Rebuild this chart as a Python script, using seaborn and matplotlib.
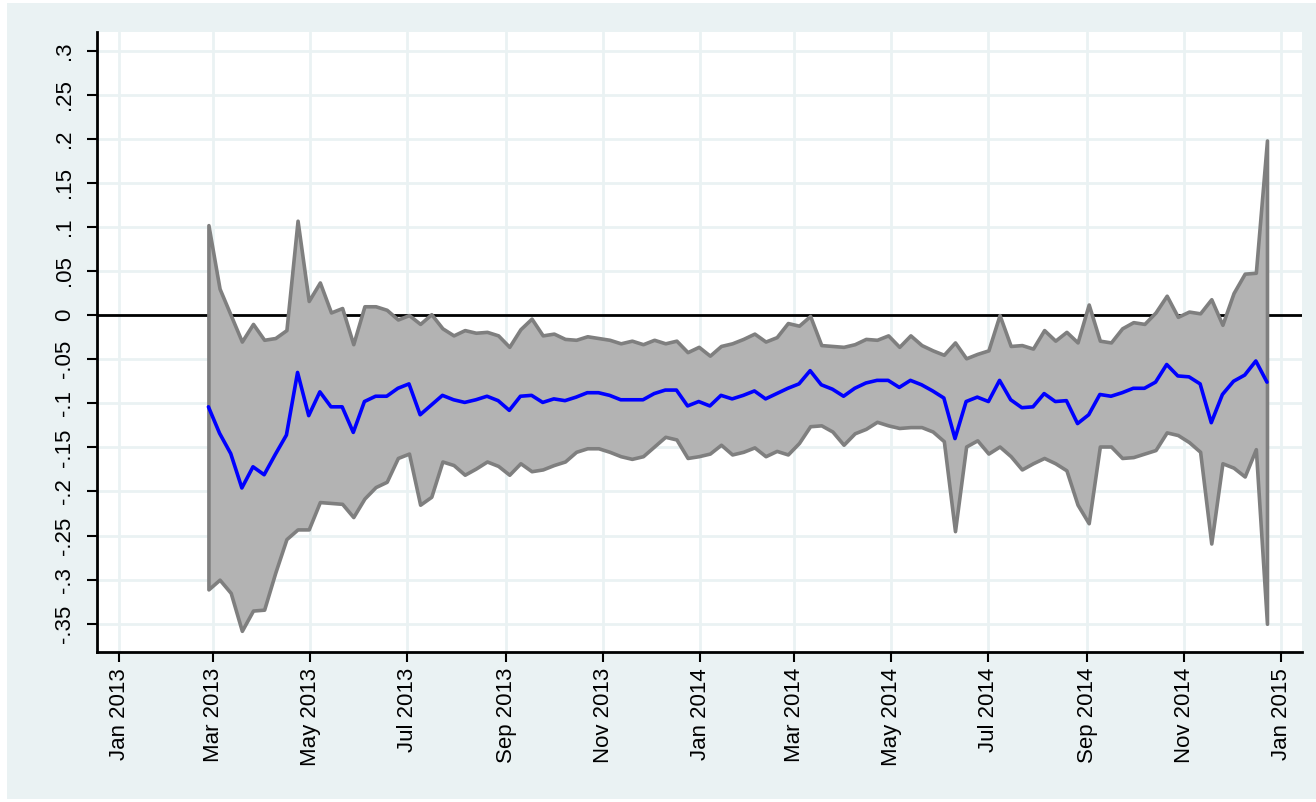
import matplotlib
matplotlib.use("Agg")
import matplotlib.pyplot as plt
from matplotlib import font_manager
from matplotlib.patches import Rectangle
import numpy as np
import pandas as pd
import seaborn as sns

# weekly estimates with confidence band
upper = [0.102, 0.030, 0.000, -0.030, -0.010, -0.028, -0.026, -0.017, 0.107, 0.016, 0.037, 0.003, 0.008, -0.033, 0.010, 0.010,
         0.006, -0.005, 0.000, -0.010, 0.001, -0.015, -0.023, -0.017, -0.020, -0.019, -0.023, -0.036, -0.016, -0.004, -0.023, -0.021,
         -0.027, -0.028, -0.024, -0.026, -0.028, -0.032, -0.029, -0.033, -0.028, -0.032, -0.029, -0.042, -0.036, -0.046, -0.035, -0.032,
         -0.027, -0.021, -0.030, -0.025, -0.009, -0.012, -0.001, -0.034, -0.035, -0.036, -0.033, -0.027, -0.028, -0.023, -0.036, -0.023,
         -0.034, -0.040, -0.045, -0.031, -0.049, -0.044, -0.040, 0.000, -0.035, -0.034, -0.038, -0.017, -0.029, -0.019, -0.031, 0.012,
         -0.029, -0.031, -0.015, -0.008, -0.010, 0.003, 0.022, -0.002, 0.004, 0.002, 0.018, -0.011, 0.025, 0.047, 0.048, 0.198]

mean = [-0.104, -0.134, -0.157, -0.196, -0.172, -0.181, -0.158, -0.136, -0.065, -0.114, -0.087, -0.104, -0.104, -0.133, -0.098, -0.092,
        -0.092, -0.083, -0.078, -0.113, -0.102, -0.091, -0.096, -0.099, -0.096, -0.092, -0.097, -0.108, -0.092, -0.091, -0.099, -0.095,
        -0.097, -0.093, -0.088, -0.088, -0.091, -0.096, -0.096, -0.096, -0.089, -0.085, -0.085, -0.103, -0.098, -0.103, -0.091, -0.095,
        -0.091, -0.086, -0.095, -0.089, -0.083, -0.078, -0.063, -0.079, -0.084, -0.092, -0.083, -0.077, -0.074, -0.074, -0.082, -0.074,
        -0.079, -0.086, -0.094, -0.140, -0.098, -0.093, -0.098, -0.074, -0.096, -0.105, -0.104, -0.089, -0.098, -0.097, -0.123, -0.113,
        -0.090, -0.092, -0.088, -0.083, -0.083, -0.076, -0.056, -0.069, -0.070, -0.078, -0.122, -0.090, -0.075, -0.068, -0.052, -0.076]

lower = [-0.311, -0.300, -0.315, -0.358, -0.335, -0.334, -0.292, -0.254, -0.243, -0.243, -0.212, -0.213, -0.214, -0.229, -0.208, -0.195,
         -0.189, -0.162, -0.157, -0.215, -0.206, -0.166, -0.170, -0.181, -0.174, -0.166, -0.171, -0.181, -0.168, -0.177, -0.175, -0.170,
         -0.166, -0.155, -0.151, -0.151, -0.155, -0.160, -0.163, -0.160, -0.149, -0.138, -0.141, -0.162, -0.160, -0.157, -0.147, -0.158,
         -0.155, -0.150, -0.160, -0.154, -0.158, -0.145, -0.126, -0.125, -0.132, -0.147, -0.134, -0.129, -0.121, -0.125, -0.128, -0.127,
         -0.127, -0.132, -0.143, -0.245, -0.149, -0.142, -0.157, -0.149, -0.160, -0.175, -0.168, -0.162, -0.168, -0.176, -0.215, -0.236,
         -0.149, -0.149, -0.162, -0.161, -0.157, -0.153, -0.133, -0.136, -0.144, -0.155, -0.259, -0.168, -0.173, -0.183, -0.152, -0.350]

weeks = pd.date_range("2013-02-26", periods=len(mean), freq="7D")
x_ticks = pd.date_range("2013-01-01", "2015-01-01", freq="2MS")
y_ticks = [0.3, 0.25, 0.2, 0.15, 0.1, 0.05, 0.0, -0.05, -0.1, -0.15, -0.2, -0.25, -0.3, -0.35]


def stata_label(v):
    # Stata drops the leading zero: .25, -.05, 0
    if abs(v) < 1e-9:
        return "0"
    s = f"{v:g}"
    return s.replace("0.", ".")


df = pd.DataFrame({"week": weeks, "mean": mean, "lower": lower, "upper": upper})

sns.set_style("white")

# the reference text is tall and narrow; use a narrow face when one is installed
try:
    font_manager.findfont("Liberation Sans Narrow", fallback_to_default=False)
    plt.rcParams['font.family'] = ['Liberation Sans Narrow', 'Liberation Sans', 'DejaVu Sans']
    label_size = 19
except ValueError:
    plt.rcParams['font.family'] = ['Liberation Sans', 'DejaVu Sans']
    label_size = 16

W, H = 1316, 802
fig = plt.figure(figsize=(W / 100, H / 100), dpi=100, facecolor="white")
# light graph region behind the white plot region
fig.patches.append(Rectangle((7 / W, 3 / H), (W - 7) / W, 796 / H, transform=fig.transFigure,
                             facecolor="#eaf2f3", edgecolor="none", zorder=-10))
ax = fig.add_axes([97 / W, 1 - 652 / H, (1302 - 97) / W, (652 - 32) / H])
ax.set_facecolor("white")

ax.axhline(0, color="black", lw=2, zorder=1.5)
ax.fill_between(df["week"], df["lower"], df["upper"], facecolor="#b3b3b3",
                edgecolor="#7f7f7f", linewidth=2.6, zorder=2)
sns.lineplot(data=df, x="week", y="mean", color="#0000ff", lw=2.6, ax=ax, zorder=4)

ax.set_xlim(pd.Timestamp("2012-12-18"), pd.Timestamp("2015-01-14"))
ax.set_ylim(-0.382, 0.321)

ax.set_xticks(x_ticks)
ax.set_xticklabels([d.strftime("%b %Y") for d in x_ticks], rotation=90, ha="center", va="top")
ax.set_yticks(y_ticks)
ax.set_yticklabels([stata_label(v) for v in y_ticks], rotation=90, va="center")

ax.grid(True, color="#eaf2f3", lw=2)
ax.set_axisbelow(True)
ax.set_xlabel("")
ax.set_ylabel("")

for side in ["top", "right"]:
    ax.spines[side].set_visible(False)
for side in ["left", "bottom"]:
    ax.spines[side].set_color("black")
    ax.spines[side].set_linewidth(2)

ax.tick_params(axis="both", direction="out", length=7.5, width=1.5, color="black",
               labelsize=label_size, labelcolor="black")
ax.tick_params(axis="y", pad=8, left=True)
ax.tick_params(axis="x", pad=4, bottom=True)

fig.savefig("out.png", dpi=100, facecolor=fig.get_facecolor())
